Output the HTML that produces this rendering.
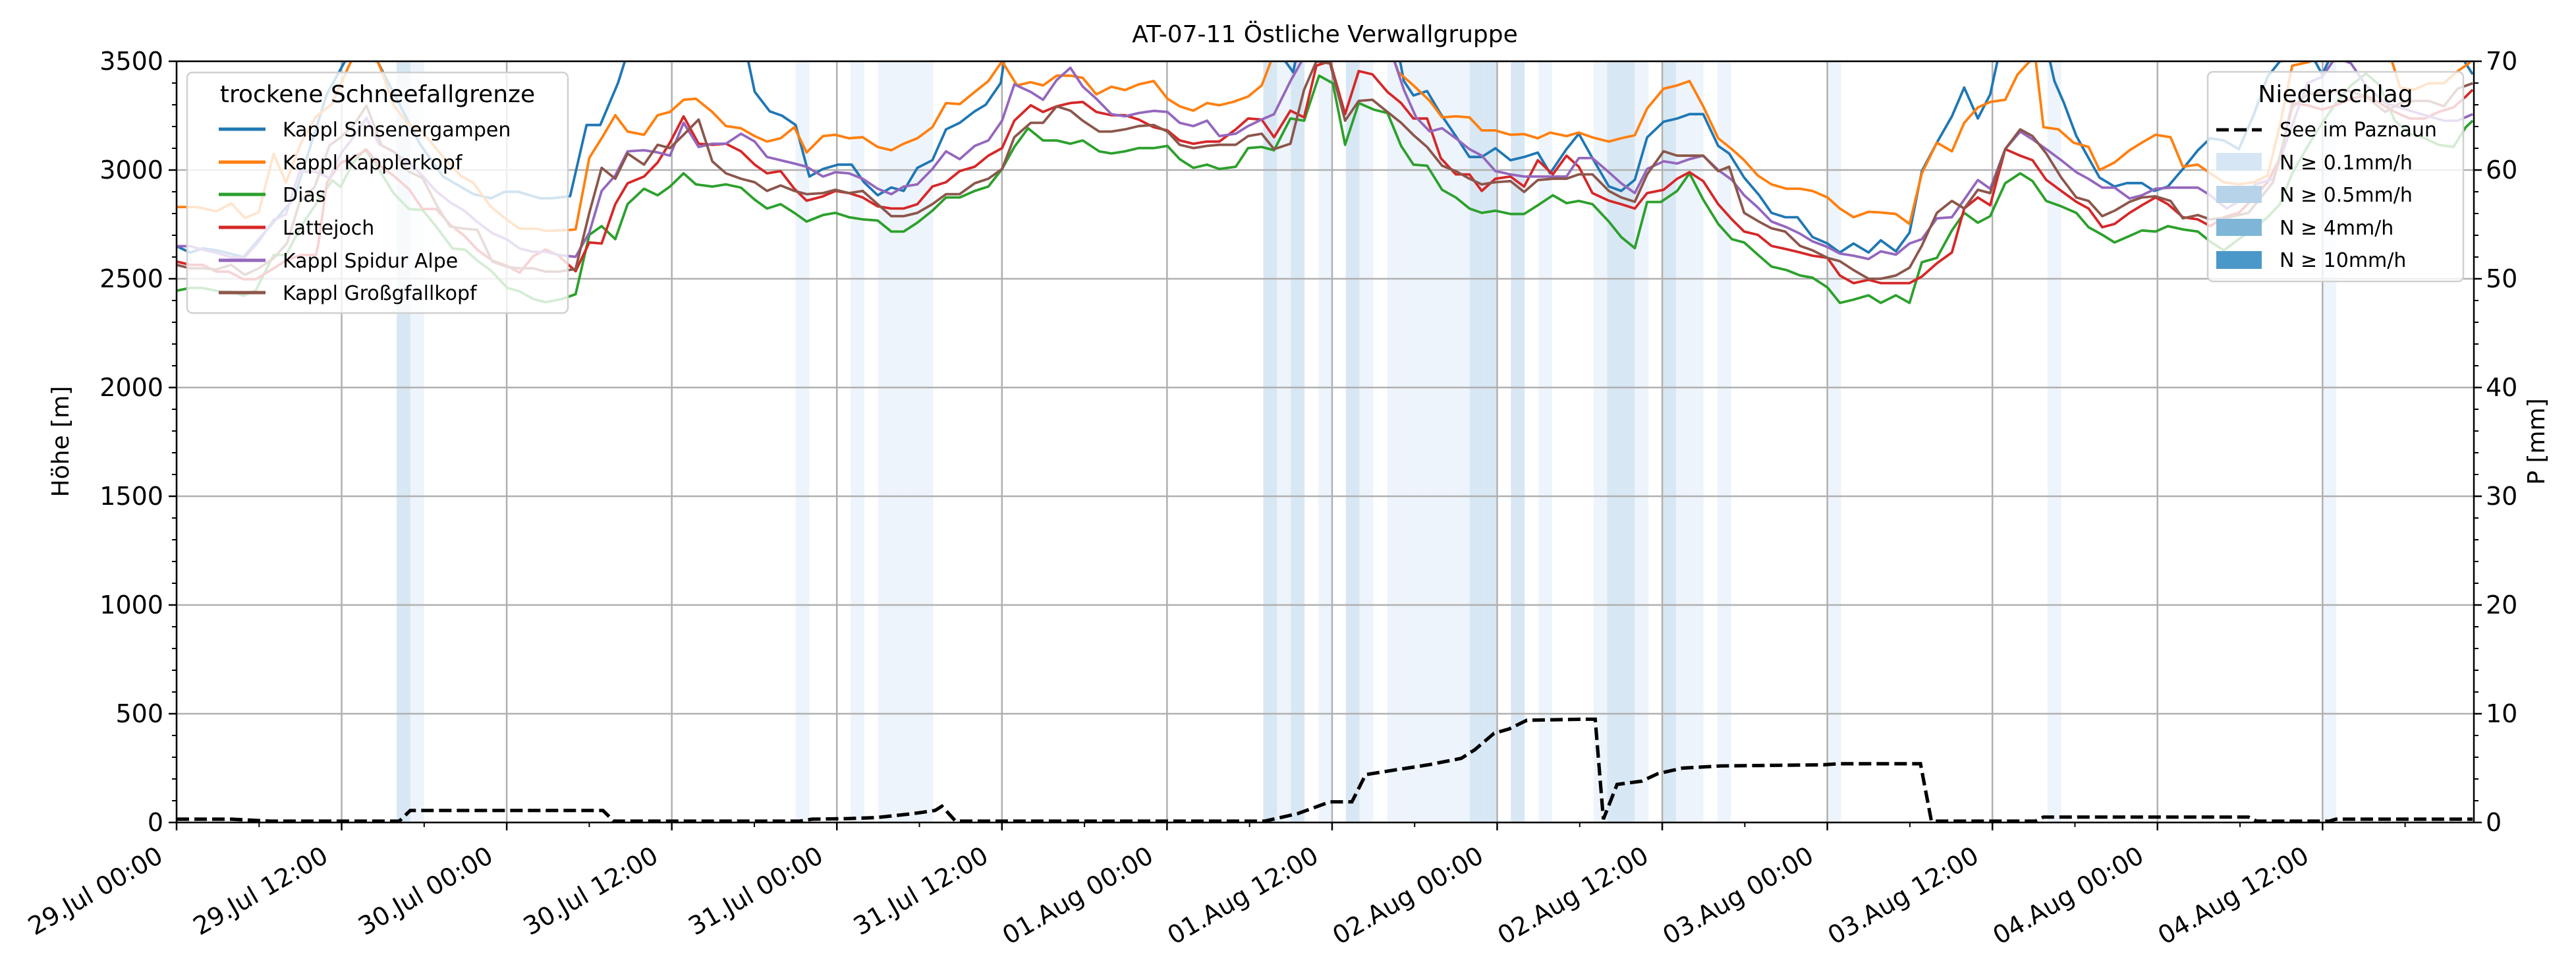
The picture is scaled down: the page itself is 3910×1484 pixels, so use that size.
<!DOCTYPE html>
<html><head><meta charset="utf-8"><style>
html,body{margin:0;padding:0;background:#fff}
svg{display:block;font-family:"DejaVu Sans","Liberation Sans",sans-serif}
</style></head><body>
<svg id="chart" width="3910" height="1484" viewBox="0 0 3910 1484" xmlns="http://www.w3.org/2000/svg">
<defs><clipPath id="plotclip"><rect x="268" y="93" width="3487" height="1155"/></clipPath></defs>
<rect x="0" y="0" width="3910" height="1484" fill="#fff"/>
<g id="bands" clip-path="url(#plotclip)"></g>
<g id="grid"></g>
<g id="lines" clip-path="url(#plotclip)"></g>
<g id="axes"></g>
<text x="2011" y="64" font-size="36" text-anchor="middle">AT-07-11 Östliche Verwallgruppe</text>
<text transform="translate(104,670) rotate(-90)" font-size="36" text-anchor="middle">Höhe [m]</text>
<text transform="translate(3862,670) rotate(-90)" font-size="36" text-anchor="middle">P [mm]</text>

<g>
<rect x="284" y="110" width="578" height="365" rx="8" fill="rgba(255,255,255,0.8)" stroke="#d0d0d0" stroke-width="2.5"/>
<text x="573" y="155" font-size="36" text-anchor="middle">trockene Schneefallgrenze</text>
<g font-size="30">
<line x1="332" y1="196" x2="403" y2="196" stroke="#1f77b4" stroke-width="5"/><text x="429" y="207">Kappl Sinsenergampen</text>
<line x1="332" y1="246" x2="403" y2="246" stroke="#ff7f0e" stroke-width="5"/><text x="429" y="257">Kappl Kapplerkopf</text>
<line x1="332" y1="295" x2="403" y2="295" stroke="#2ca02c" stroke-width="5"/><text x="429" y="306">Dias</text>
<line x1="332" y1="345" x2="403" y2="345" stroke="#d62728" stroke-width="5"/><text x="429" y="356">Lattejoch</text>
<line x1="332" y1="395" x2="403" y2="395" stroke="#9467bd" stroke-width="5"/><text x="429" y="406">Kappl Spidur Alpe</text>
<line x1="332" y1="444" x2="403" y2="444" stroke="#8c564b" stroke-width="5"/><text x="429" y="455">Kappl Großgfallkopf</text>
</g></g>

<g>
<rect x="3351" y="109" width="388" height="318" rx="8" fill="rgba(255,255,255,0.8)" stroke="#d0d0d0" stroke-width="2.5"/>
<text x="3545" y="155" font-size="36" text-anchor="middle">Niederschlag</text>
<g font-size="30">
<line x1="3364" y1="197" x2="3433" y2="197" stroke="#000" stroke-width="5" stroke-dasharray="19,8"/><text x="3460" y="207">See im Paznaun</text>
<rect x="3364" y="232" width="69" height="27" fill="#d6e6f4"/><text x="3460" y="257">N ≥ 0.1mm/h</text>
<rect x="3364" y="282" width="69" height="26" fill="#b6d3ea"/><text x="3460" y="306">N ≥ 0.5mm/h</text>
<rect x="3364" y="332" width="69" height="26" fill="#7fb6d8"/><text x="3460" y="356">N ≥ 4mm/h</text>
<rect x="3364" y="381" width="69" height="27" fill="#4a98c9"/><text x="3460" y="405">N ≥ 10mm/h</text>
</g></g>
</svg>
<script>
// ---- data ----
const xTickLabels = ["29.Jul 00:00","29.Jul 12:00","30.Jul 00:00","30.Jul 12:00","31.Jul 00:00","31.Jul 12:00","01.Aug 00:00","01.Aug 12:00","02.Aug 00:00","02.Aug 12:00","03.Aug 00:00","03.Aug 12:00","04.Aug 00:00","04.Aug 12:00"];
const yTicks = [0,500,1000,1500,2000,2500,3000,3500];
const y2Ticks = [0,10,20,30,40,50,60,70];
const rainHour = [16,17,45,49,51,52,53,54,79,80,81,83,85,86,88,89,90,91,92,93,94,95,97,99,103,104,105,106,108,109,110,112,120,136,156];
const rainLevel = [2,1,1,1,1,1,1,1,2,1,2,1,2,1,1,1,1,1,1,1,2,2,2,1,1,2,2,1,2,1,1,1,1,1,1];

const blueH = [0,1,1.9,3,4.9,8.6,11,12.5,14.7,17.8,19.5,21.7,23,24,25,26.6,27.5,28.8,30,31,32.3,33,41.7,42.3,43.4,44.3,45.3,46.3,47.3,48.4,49.4,50.3,51.3,52.3,53.2,54.2,55.3,56.3,57.3,58.4,59.2,60.3,60.6,80.9,81.7,82,89.4,89.8,90.5,91.5,92.5,93.6,94.6,95.5,96.5,97.6,98.6,99.6,100.5,101.7,102.6,103.6,104.8,105.7,106.7,107.6,108.8,109.8,110.7,111.7,112.8,113.6,114.7,115.8,116.7,117.7,118.6,119.7,120.8,121.7,122.7,123.8,124.7,125.8,126.8,127.7,128.8,129.9,130.8,131.8,132.7,133.3,137,137.4,138.1,139,139.9,140.7,141.8,142.7,143.8,144.7,145.7,146.8,147.9,148.8,149.8,150.9,152,153,153.9,156.3,157,157.6,167.2,168];
const blueV = [2650,2620,2640,2630,2600,2870,3350,3520,3500,3120,2970,2890,2870,2900,2900,2870,2870,2880,3207,3207,3400,3540,3540,3360,3270,3250,3207,2970,3005,3025,3025,2944,2884,2920,2904,3010,3045,3187,3217,3270,3300,3400,3520,3520,3450,3540,3540,3409,3343,3363,3257,3156,3060,3060,3100,3045,3060,3080,2985,3096,3167,3055,2925,2904,2955,3150,3222,3237,3257,3257,3111,3076,2965,2884,2803,2783,2783,2692,2662,2621,2662,2621,2677,2626,2712,2995,3126,3247,3379,3237,3348,3520,3520,3409,3308,3157,3055,2965,2924,2940,2940,2904,2924,3005,3091,3146,3136,3096,3257,3429,3500,3520,3439,3520,3520,3440];

const orangeH = [0,1.5,2.9,4,5,6,7.1,8,9.1,10.2,11.4,12.6,13,14.5,15,15.9,16.9,18,19.6,20.8,21.7,23,24.2,25.1,26.4,27,28.8,29.2,30.2,31.1,32.1,33,34.2,35.2,36.1,37.1,38,39.2,40.2,41.3,42.3,43.2,44.2,45.2,46.1,47.3,48.2,49.2,50.2,51.3,52.3,53.2,54.2,55.3,56.3,57.3,58.4,59.4,60.4,61.5,62.5,63.4,64.4,65.4,66.3,67.3,68.4,69.4,70.4,71.5,72.5,73.4,74.4,75.4,76.3,77.3,78.4,79.4,80.2,89,89.4,90.5,91.7,92.6,93.6,94.6,95.5,96.5,97.6,98.6,99.6,100.5,101.7,102.6,103.6,104.8,105.7,106.7,107.6,108.8,109.8,110.7,111.7,112.8,113.8,114.7,115.7,116.7,117.8,118.8,119.7,120.8,121.7,122.7,123.8,124.7,125.8,126.8,127.7,128.8,129.9,130.8,131.8,132.7,133.8,134.7,135.6,136,136.6,137.7,138.8,139.9,140.7,141.8,142.9,143.8,144.8,145.9,146.8,147.9,148.8,149.8,150.9,152,153,153.9,154.8,155.9,157,162,162.7,163.7,164.8,165.9,166.8,167.7,168];
const orangeV = [2830,2830,2810,2846,2780,2805,3074,2942,3124,3245,3306,3478,3530,3530,3457,3296,3215,3175,3053,2973,2942,2831,2770,2730,2730,2720,2725,2727,3056,3146,3252,3177,3162,3252,3267,3323,3328,3267,3202,3192,3156,3131,3146,3197,3081,3156,3162,3146,3151,3106,3091,3121,3146,3197,3308,3303,3359,3409,3500,3389,3404,3389,3434,3434,3424,3348,3383,3368,3394,3409,3328,3293,3273,3308,3298,3313,3338,3389,3520,3520,3450,3389,3318,3242,3247,3242,3182,3182,3162,3165,3146,3172,3156,3172,3150,3131,3146,3160,3283,3374,3389,3409,3293,3146,3096,3045,2975,2934,2914,2914,2904,2874,2823,2783,2808,2805,2798,2752,2985,3126,3086,3217,3288,3313,3323,3439,3500,3520,3197,3187,3126,3106,3000,3035,3091,3126,3162,3151,3015,3025,2985,2944,2934,2944,2975,3207,3480,3495,3520,3520,3379,3369,3399,3399,3450,3490,3510];

const greenH = [0,1,1.9,3.1,4,4.9,5.8,7.1,8,9.2,10.4,11.4,12,12.9,13.8,14.7,15.9,17,18,19,20.2,21.1,22,23,24.2,25.1,26.1,27,28.2,29.2,30.2,31.1,32.1,33,34.2,35.2,36.1,37.1,38,39.2,40.2,41.3,42.3,43.2,44.2,45.2,46.1,47.3,48.2,49.2,50.2,51.3,52.3,53.2,54.2,55.3,56.3,57.3,58.4,59.4,60.4,61.3,62.3,63.4,64.4,65.4,66.3,67.5,68.4,69.4,70.4,71.5,72.5,73.4,74.4,75.4,76.3,77.5,78.4,79.4,80.3,81.5,82.5,83.6,84.6,85.5,86.5,87.6,88.6,89.6,90.5,91.5,92.6,93.6,94.6,95.5,96.5,97.6,98.6,99.6,100.7,101.7,102.6,103.6,104.8,105.7,106.7,107.6,108.6,109.8,110.7,111.7,112.8,113.8,114.7,115.7,116.7,117.8,118.8,119.7,120.8,121.7,122.7,123.8,124.7,125.8,126.8,127.7,128.8,129.9,130.8,131.8,132.7,133.8,134.9,135.8,136.8,137.9,139,139.9,140.9,141.8,142.9,143.8,144.8,145.7,146.8,147.9,148.8,149.8,150.9,152,153,153.9,154.8,155.9,157,158,159.1,160.2,161.2,162.3,163.4,164.5,165.5,166.6,167.5,168];
const greenV = [2445,2458,2458,2442,2440,2422,2447,2609,2609,2750,2862,2953,2922,3033,3094,3013,2892,2821,2816,2740,2639,2634,2584,2538,2458,2442,2407,2392,2407,2429,2702,2742,2682,2843,2914,2884,2924,2985,2934,2924,2934,2919,2864,2823,2843,2803,2763,2793,2803,2783,2773,2768,2717,2717,2758,2813,2874,2874,2904,2924,3005,3106,3192,3136,3136,3121,3136,3086,3076,3086,3101,3101,3111,3050,3010,3025,3005,3015,3101,3106,3091,3237,3227,3434,3399,3116,3308,3278,3262,3111,3025,3020,2909,2874,2823,2803,2813,2798,2798,2838,2884,2848,2858,2843,2763,2692,2641,2853,2853,2904,2985,2864,2752,2682,2667,2611,2556,2540,2515,2505,2460,2389,2404,2424,2389,2424,2389,2576,2596,2722,2803,2758,2788,2939,2985,2949,2858,2833,2803,2737,2702,2667,2697,2722,2717,2742,2727,2717,2671,2631,2682,2732,2783,2843,2985,3106,3217,3308,3389,3444,3389,3227,3167,3146,3116,3106,3197,3227];

const redH = [0,1,1.9,2.9,3.8,4.9,5.8,7.1,8,9.1,10.2,10.4,11,12,13,13.9,14.8,15.9,17,18,19,20,21.1,22,23.1,24.2,25.1,26.1,27,27.9,29.2,30.2,31.1,32.1,33,34.2,35.2,36.1,37.1,38.2,39.2,40.2,41.3,42.3,43.2,44.2,45.2,46.1,47.3,48.2,49.2,50.2,51.3,52.3,53.2,54.2,55.3,56.3,57.3,58.4,59.4,60.4,61.3,62.5,63.4,64.4,65.4,66.3,67.3,68.4,69.4,70.4,71.5,72.5,73.4,74.4,75.4,76.3,77.5,78.4,79.4,80.3,81.5,82.5,83.4,84.4,85.5,86.5,87.5,88.6,89.6,90.5,91.5,92.5,93.6,94.6,95.5,96.5,97.6,98.6,99.6,100.7,101.7,102.6,103.6,104.8,105.7,106.7,107.6,108.8,109.8,110.7,111.7,112.8,113.8,114.7,115.7,116.7,117.8,118.8,119.7,120.8,121.7,122.7,123.8,124.7,125.8,126.8,127.7,128.8,129.9,130.8,131.8,132.7,133.8,134.9,135.8,136.8,137.9,139,139.9,140.9,141.8,142.9,143.8,144.8,145.7,146.8,147.9,148.8,149.8,150.9,152,153,153.9,154.8,155.9,157,158,159.1,160.2,161.2,162.3,163.4,164.5,165.5,166.6,167.5,168];
const redV = [2579,2564,2564,2533,2533,2498,2498,2548,2584,2609,2609,2670,2942,3033,3059,3094,3023,2973,2912,2821,2821,2750,2695,2634,2584,2559,2528,2604,2634,2609,2535,2667,2662,2843,2939,2970,3035,3126,3247,3121,3116,3121,3086,3025,2985,2995,2914,2859,2879,2904,2894,2874,2833,2823,2823,2843,2924,2944,2995,3015,3066,3101,3227,3298,3267,3293,3308,3313,3267,3252,3252,3232,3197,3182,3136,3121,3131,3131,3187,3237,3232,3151,3273,3242,3480,3500,3257,3455,3440,3359,3308,3237,3237,3055,2980,2980,2904,2960,2970,2924,3045,2980,3066,3015,2894,2859,2843,2823,2894,2909,2960,2990,2949,2843,2773,2717,2702,2651,2636,2621,2606,2596,2515,2480,2495,2480,2480,2480,2510,2571,2621,2823,2874,2838,3096,3066,3045,2955,2904,2854,2823,2737,2752,2803,2838,2874,2843,2783,2773,2742,2783,2803,2874,2944,3055,3308,3298,3278,3298,3328,3343,3308,3267,3237,3237,3267,3288,3338,3369];

const purpleH = [0,1,1.9,2.9,4,5,6,7.1,8,9,10.1,11.2,12,13,13.9,14.8,15.9,17,18,19,20,21.1,22,23.1,24.2,25.1,26.1,27,28,29.2,30.2,31.1,32.1,33,34.2,35.2,36.1,37.1,38.2,39.2,40.2,41.3,42.3,43.2,44.2,45.2,46.1,47.3,48.2,49.2,50.2,51.3,52.3,53.2,54.2,55.3,56.3,57.3,58.4,59.4,60.4,61.3,62.5,63.4,64.4,65.4,66.3,67.3,68.4,69.4,70.4,71.5,72.5,73.4,74.4,75.4,76.3,77.5,78.4,79.4,80.3,81.5,82.5,86.4,89,89.8,90.7,91.7,92.6,93.6,94.6,95.5,96.5,97.6,98.6,99.6,100.7,101.7,102.6,103.6,104.8,105.7,106.7,107.6,108.8,109.8,110.7,111.7,112.8,113.8,114.7,115.7,116.7,117.8,118.8,119.7,120.8,121.7,122.7,123.8,124.7,125.8,126.8,127.7,128.8,129.9,130.8,131.8,132.7,133.8,134.9,135.8,136.8,137.9,139,139.9,140.9,141.8,142.9,143.8,144.8,145.9,146.8,147.9,148.8,150,151.1,152.1,153.4,154.8,155.9,157,158,159.1,160.2,161.6,162.7,163.7,164.8,165.9,166.9,168];
const purpleV = [2650,2650,2634,2619,2599,2599,2670,2771,2796,2993,2993,2963,3074,3155,3240,3119,3084,3033,2973,2902,2852,2811,2761,2710,2680,2639,2624,2624,2609,2601,2712,2904,2975,3086,3091,3081,3066,3217,3106,3121,3121,3167,3131,3060,3045,3030,3015,2970,2990,2985,2960,2914,2889,2924,2934,3005,3086,3050,3111,3136,3227,3394,3359,3323,3414,3470,3384,3328,3257,3247,3262,3272,3267,3217,3202,3227,3156,3167,3202,3232,3257,3409,3520,3520,3520,3369,3242,3177,3192,3146,3096,3066,2995,2980,2970,2970,2970,2970,3055,3055,2990,2939,2894,3005,3040,3030,3050,3066,3000,2955,2884,2828,2763,2737,2707,2672,2646,2616,2606,2591,2626,2611,2662,2682,2778,2783,2864,2954,2914,3096,3177,3141,3096,3045,2990,2959,2919,2919,2869,2884,2914,2919,2919,2919,2884,2823,2864,2934,2959,3207,3399,3429,3520,3490,3389,3308,3288,3267,3247,3227,3227,3257];

const brownH = [0,1,1.9,2.9,4,5,6,7.1,8.1,9,10.1,11.2,12,13,13.9,15,15.9,17,18,19,20,21.1,22,23.1,24.2,25.1,26.1,27,28,29.2,30.2,31.1,32.1,33,34.2,35.2,36.1,37.1,38.2,39.2,40.2,41.3,42.3,43.2,44.2,45.2,46.1,47.3,48.2,49.2,50.2,51.3,52.3,53.2,54.2,55.3,56.3,57.3,58.4,59.4,60.4,61.3,62.5,63.4,64.4,65.4,66.3,67.5,68.4,69.4,70.4,71.5,72.5,73.4,74.4,75.4,76.3,77.5,78.4,79.4,80.3,81.5,82.5,83.4,84.4,85.5,86.5,87.5,88.6,89.6,90.5,91.5,92.6,93.6,94.6,95.5,96.5,97.6,98.6,99.6,100.7,101.7,102.6,103.6,104.8,105.7,106.7,107.6,108.8,109.8,110.7,111.7,112.8,113.6,114.7,115.8,116.7,117.7,118.8,119.7,120.8,121.7,122.7,123.8,124.7,125.8,126.8,127.7,128.8,129.9,130.8,131.8,132.7,133.8,134.9,135.8,136.8,137.9,139,139.9,140.9,141.8,142.9,143.8,144.8,145.9,146.8,147.9,148.8,150.2,151.6,153.4,154.8,155.9,157,158.7,160.2,161.6,162.7,163.7,164.8,165.9,166.9,168];
const brownV = [2564,2548,2548,2543,2564,2518,2548,2594,2665,2852,2922,3114,3150,3210,3296,3114,3084,2993,2963,2842,2740,2730,2725,2579,2554,2548,2548,2533,2533,2545,2803,3010,2960,3076,3025,3116,3101,3162,3232,3040,2985,2960,2944,2904,2929,2904,2889,2894,2909,2894,2904,2843,2788,2788,2803,2843,2889,2889,2939,2960,3005,3151,3217,3217,3293,3273,3227,3177,3177,3187,3202,3207,3177,3116,3101,3111,3116,3116,3156,3167,3096,3121,3369,3500,3490,3227,3318,3323,3267,3217,3161,3106,3020,2995,2960,2934,2944,2949,2899,2954,2960,2960,2980,2980,2904,2874,2854,2980,3086,3066,3066,3066,2995,3015,2803,2762,2732,2717,2651,2631,2596,2581,2540,2500,2500,2515,2551,2652,2803,2858,2823,2909,2894,3096,3187,3156,3076,2965,2874,2858,2788,2813,2854,2874,2879,2858,2778,2793,2773,2783,2803,2944,3288,3348,3358,3369,3338,3267,3308,3318,3318,3293,3374,3399];

const precipH = [0,4,6.9,16.3,17.1,31.2,32,45.6,46.5,49,51.2,53.8,55.5,56,57,79.6,82,84.4,86,87,89,91.6,94,95,96.4,97.5,98.8,103,103.8,104.4,105.4,107.2,108.4,110.2,113,120.5,121.6,127.6,128.4,136,136.6,151.6,152.2,157.5,158,168];
const precipV = [0.3,0.3,0,0,1.1,1.1,0,0,0.3,0.35,0.45,0.8,1.1,1.5,0,0,0.8,1.9,1.9,4.4,4.8,5.3,5.9,6.7,8.2,8.6,9.4,9.5,9.5,0.3,3.5,3.8,4.5,5.0,5.2,5.3,5.4,5.4,0,0,0.5,0.5,0,0,0.3,0.3];

// ---- scales ----
const X0=268,X1=3755,Y0=93,Y1=1248;
const HMAX=167;            // axis spans 29.Jul 00:00 .. 04.Aug 23:00
const hourCal=0.9935;      // calibration of hand-read series hours
const xs = h => X0 + h*(X1-X0)/HMAX;
const yL = v => Y1 - v*(Y1-Y0)/3500;
const yR = v => Y1 - v*(Y1-Y0)/70;
const NS="http://www.w3.org/2000/svg";
function mk(tag, attrs, parent){const e=document.createElementNS(NS,tag);for(const k in attrs)e.setAttribute(k,attrs[k]);parent.appendChild(e);return e;}

// bands
const gB=document.getElementById('bands');
rainHour.forEach((h,i)=>{
  const r=mk('rect',{x:xs(h),y:Y0,width:xs(h+1)-xs(h),height:Y1-Y0,fill:rainLevel[i]===2?'#d8e7f4':'#eef4fb'},gB);
  
  
});

// grid
const gG=document.getElementById('grid');
for(let i=0;i<14;i++){const l=mk('line',{x1:xs(i*12),x2:xs(i*12),y1:Y0,y2:Y1,stroke:'#b0b0b0','stroke-width':2.5},gG);
  
  }
yTicks.forEach(v=>{const l=mk('line',{x1:X0,x2:X1,y1:yL(v),y2:yL(v),stroke:'#b0b0b0','stroke-width':2.5},gG);
  
  });

// lines
const gL=document.getElementById('lines');
function series(H,V,color,name){
  const d=H.map((h,i)=>(i?'L':'M')+xs(h*hourCal).toFixed(1)+','+yL(V[i]).toFixed(1)).join('');
  const p=mk('path',{d:d,fill:'none',stroke:color,'stroke-width':3.8,'stroke-linejoin':'round'},gL);
  
  
}
series(blueH,blueV,'#1f77b4','line-sinsenergampen');
series(orangeH,orangeV,'#ff7f0e','line-kapplerkopf');
series(greenH,greenV,'#2ca02c','line-dias');
series(redH,redV,'#d62728','line-lattejoch');
series(purpleH,purpleV,'#9467bd','line-spidur-alpe');
series(brownH,brownV,'#8c564b','line-grossgfallkopf');
const pd=precipH.map((h,i)=>(i?'L':'M')+xs(h*hourCal).toFixed(1)+','+Math.min(yR(precipV[i]),Y1-2).toFixed(1)).join('');
const pp=mk('path',{d:pd,fill:'none',stroke:'#000','stroke-width':5.2,'stroke-dasharray':'19,8'},gL);



// axes
const gA=document.getElementById('axes');
mk('rect',{x:X0,y:Y0,width:X1-X0,height:Y1-Y0,fill:'none',stroke:'#000','stroke-width':2.5},gA);
yTicks.forEach(v=>{mk('line',{x1:X0-12,x2:X0,y1:yL(v),y2:yL(v),stroke:'#000','stroke-width':2.5},gA);
  const t=mk('text',{x:X0-20,y:yL(v)+13,'font-size':38,'text-anchor':'end'},gA);t.textContent=v;
  
  });
for(let v=0;v<=3500;v+=100){if(v%500)mk('line',{x1:X0-7,x2:X0,y1:yL(v),y2:yL(v),stroke:'#000','stroke-width':2},gA);}
y2Ticks.forEach(v=>{mk('line',{x1:X1,x2:X1+12,y1:yR(v),y2:yR(v),stroke:'#000','stroke-width':2.5},gA);
  const t=mk('text',{x:X1+18,y:yR(v)+13,'font-size':38},gA);t.textContent=v;
  
  });
for(let v=0;v<=70;v+=2){if(v%10)mk('line',{x1:X1,x2:X1+7,y1:yR(v),y2:yR(v),stroke:'#000','stroke-width':2},gA);}
for(let h=0;h<=HMAX;h+=6){const major=h%12===0;mk('line',{x1:xs(h),x2:xs(h),y1:Y1,y2:Y1+(major?12:7),stroke:'#000','stroke-width':major?2.5:2},gA);}
xTickLabels.forEach((s,i)=>{const x=xs(i*12)-18;const t=mk('text',{transform:`translate(${x},1306) rotate(-30)`,'font-size':38,'text-anchor':'end'},gA);t.textContent=s;
  
  });
</script>
</body></html>
